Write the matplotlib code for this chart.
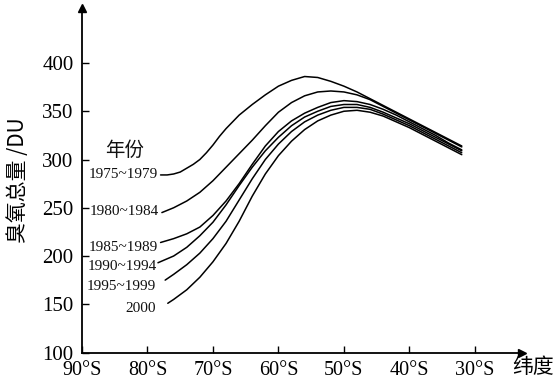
import matplotlib
matplotlib.use('Agg')
import matplotlib.pyplot as plt

# ---- data ----
lat_ticks = [90, 80, 70, 60, 50, 40, 30]
lat_labels = ['90°S', '80°S', '70°S', '60°S', '50°S', '40°S', '30°S']
du_ticks = [100, 150, 200, 250, 300, 350, 400]

grid = [76, 74, 72, 70, 68, 66, 64, 62, 60, 58, 56, 54, 52, 50, 48, 46, 44, 42, 40, 38, 36, 34, 32]

lat_1975 = [78, 77, 76, 75, 74, 73, 72, 71, 70, 69, 68, 66, 64, 62, 60, 58, 56, 54, 52, 50, 48, 46, 44, 42, 40, 38, 36, 34, 32]
du_1975 = [284, 284, 285, 287, 291, 295, 300, 307, 315, 324, 332, 346, 357, 367, 376, 382, 386, 385, 381, 376, 370, 363, 356, 349, 342, 335, 328, 321, 314]

lat_1980 = [77.8] + grid
du_1980 = [245, 250, 257, 266, 278, 292, 306, 320, 335, 349, 359, 366, 370, 371, 370, 367, 362, 355, 348, 341, 334, 327, 320, 313]

lat_1985 = [78] + grid
du_1985 = [214, 218, 223, 230, 242, 257, 275, 295, 314, 329, 340, 348, 354, 359, 361, 360, 357, 352, 346, 339, 332, 325, 317, 310]

lat_1990 = [78.4] + grid
du_1990 = [193, 200, 209, 221, 235, 253, 273, 292, 309, 323, 335, 344, 350, 355, 357, 357, 354, 349, 343, 337, 330, 323, 316, 309]

lat_1995 = [77.3] + grid
du_1995 = [175, 181, 191, 203, 218, 236, 258, 280, 300, 316, 329, 339, 346, 351, 354, 354, 352, 347, 341, 335, 328, 321, 314, 307]

lat_2000 = [76.9] + grid
du_2000 = [151, 155, 165, 178, 194, 213, 236, 262, 285, 304, 319, 331, 340, 346, 350, 351, 349, 345, 339, 333, 326, 319, 312, 305]

series_labels = ['1975~1979', '1980~1984', '1985~1989', '1990~1994', '1995~1999', '2000']
label_du = [284, 246.5, 209, 189.5, 168, 146]
label_lat = [78.4, 78.3, 78.4, 78.5, 78.7, 78.7]

serif = ['Liberation Serif', 'DejaVu Serif']
cjk = ['Noto Sans CJK SC', 'DejaVu Sans']

fig = plt.figure(figsize=(5.59, 3.85), dpi=100)
ax = fig.add_axes([82 / 559, 1 - 352.5 / 385, 440 / 559, 344.5 / 385])
ax.set_xlim(90, 22.8)
ax.set_ylim(100, 457)

lats = [lat_1975, lat_1980, lat_1985, lat_1990, lat_1995, lat_2000]
dus = [du_1975, du_1980, du_1985, du_1990, du_1995, du_2000]
for la, du in zip(lats, dus):
    ax.plot(la, du, color='black', lw=1.1, solid_capstyle='round', solid_joinstyle='round')

for lab, y, x in zip(series_labels, label_du, label_lat):
    ax.text(x, y, lab, ha='right', va='center', fontsize=11, family=serif, color='#111111')

ax.text(83.5, 309, '年份', ha='center', va='center', fontsize=14, family=cjk, color='#111111')

for s in ['top', 'right']:
    ax.spines[s].set_visible(False)
for s in ['left', 'bottom']:
    ax.spines[s].set_linewidth(1.3)

ax.plot(1, 0, marker='>', color='black', markersize=6, transform=ax.transAxes, clip_on=False)
ax.plot(0, 1, marker='^', color='black', markersize=6, transform=ax.transAxes, clip_on=False)

ax.set_xticks(lat_ticks)
ax.set_xticklabels(lat_labels, family=serif, fontsize=14.5)
ax.set_yticks(du_ticks)
ax.set_yticklabels([str(v) for v in du_ticks], family=serif, fontsize=15)
ax.tick_params(axis='both', direction='in', length=5, width=1.0, color='black')
ax.tick_params(axis='y', pad=6)
ax.tick_params(axis='x', pad=6)

fig.text(533 / 559, 1 - 367 / 385, '纬度', ha='center', va='center', fontsize=15, family=cjk)
fig.text(18 / 559, 1 - 180 / 385, '臭氧总量 /DU', ha='center', va='center', rotation=90,
         fontsize=15, family=cjk)

fig.savefig('out.png', dpi=100)
